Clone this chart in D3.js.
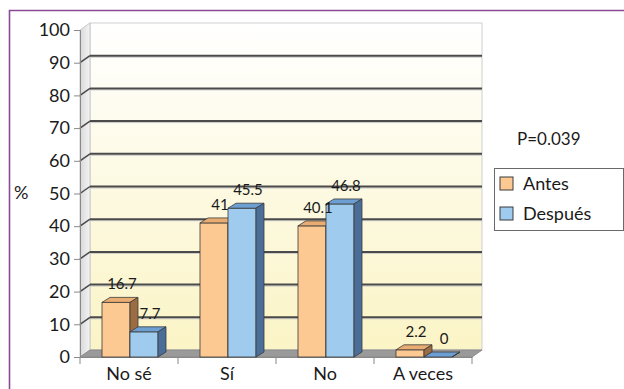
<!DOCTYPE html>
<html lang="es">
<head>
<meta charset="utf-8">
<title>Antes / Después</title>
<script src="https://d3js.org/d3.v7.min.js"></script>
<style>
  body { margin: 0; background: #fff; }
  svg text { font-family: Lato, "Open Sans", sans-serif; fill: #1a1a1a; }
</style>
</head>
<body>
<div id="chart"></div>
<script>
var categories = ["No sé", "Sí", "No", "A veces"];
var series = ["Antes", "Después"];
var antes = [16.7, 41, 40.1, 2.2];
var despues = [7.7, 45.5, 46.8, 0];
var yTicks = [0, 10, 20, 30, 40, 50, 60, 70, 80, 90, 100];

var width = 624, height = 389;
var svg = d3.select("#chart").append("svg")
    .attr("width", width)
    .attr("height", height);

// wall depth / bar depth (3D look)
var wdx = 10, wdy = -7, bdx = 8, bdy = -5;

var y = d3.scaleLinear().domain([0, 100]).range([357, 30]);
var x0 = d3.scaleBand().domain(categories).range([80, 472]);
var x1 = d3.scaleBand().domain(series).range([22, 78]);

var fronts = { "Antes": "#fdc992", "Después": "#9ecbee" },
    tops   = { "Antes": "#e9ac72", "Después": "#6e9fd2" },
    sides  = { "Antes": "#9c6c42", "Después": "#4a6e98" };

var defs = svg.append("defs");
var grad = defs.append("linearGradient").attr("id", "wall")
    .attr("x1", 0).attr("y1", 0).attr("x2", 0).attr("y2", 1);
grad.append("stop").attr("offset", "0%").attr("stop-color", "#ffffff");
grad.append("stop").attr("offset", "100%").attr("stop-color", "#fbf4c6");
var sgrad = defs.append("linearGradient").attr("id", "side")
    .attr("x1", 0).attr("y1", 0).attr("x2", 1).attr("y2", 0);
sgrad.append("stop").attr("offset", "0%").attr("stop-color", "#d8d8d8");
sgrad.append("stop").attr("offset", "100%").attr("stop-color", "#f4f4f4");

// frame
svg.append("path")
    .attr("d", "M9.5,389 V10.5 H624")
    .attr("fill", "none")
    .attr("stroke", "#8a4a98")
    .attr("stroke-width", 1.6);

var xl = x0.range()[0], xr = x0.range()[1];
var y0 = y(0), yTop = y(100);

// back wall
svg.append("rect")
    .attr("x", xl + wdx).attr("y", yTop + wdy)
    .attr("width", xr - xl).attr("height", y0 - yTop)
    .attr("fill", "url(#wall)")
    .attr("stroke", "#cfcfcf");

// side wall
svg.append("path")
    .attr("d", "M" + xl + "," + y0 + " L" + xl + "," + yTop +
               " L" + (xl + wdx) + "," + (yTop + wdy) +
               " L" + (xl + wdx) + "," + (y0 + wdy) + "Z")
    .attr("fill", "url(#side)")
    .attr("stroke", "#c8c8c8");

// gridlines on the back wall and side wall
var grid = svg.append("g");
yTicks.filter(function(d) { return d > 0 && d < 100; }).forEach(function(d) {
  grid.append("line")
      .attr("x1", xl + wdx).attr("x2", xr + wdx)
      .attr("y1", y(d) + wdy + 1.5).attr("y2", y(d) + wdy + 1.5)
      .attr("stroke", "#c9c9c9").attr("stroke-width", 1);
  grid.append("line")
      .attr("x1", xl + wdx).attr("x2", xr + wdx)
      .attr("y1", y(d) + wdy).attr("y2", y(d) + wdy)
      .attr("stroke", "#4a4a4a").attr("stroke-width", 2);
  grid.append("line")
      .attr("x1", xl).attr("x2", xl + wdx)
      .attr("y1", y(d)).attr("y2", y(d) + wdy)
      .attr("stroke", "#4a4a4a").attr("stroke-width", 1.5);
});

// floor
svg.append("path")
    .attr("d", "M" + xl + "," + y0 + " L" + xr + "," + y0 +
               " L" + (xr + wdx) + "," + (y0 + wdy) +
               " L" + (xl + wdx) + "," + (y0 + wdy) + "Z")
    .attr("fill", "#9a9a9a")
    .attr("stroke", "#8a8a8a");

// y axis
var yAxis = svg.append("g")
    .attr("transform", "translate(" + xl + ",0)")
    .call(d3.axisLeft(y).tickValues(yTicks).tickSize(6).tickPadding(4));
yAxis.select(".domain").attr("stroke", "#888");
yAxis.selectAll(".tick line").attr("stroke", "#888");
yAxis.selectAll("text").attr("font-size", 18).style("font-family", "Lato, sans-serif").attr("fill", "#1a1a1a");

// x axis
var xAxis = svg.append("g")
    .attr("transform", "translate(0," + y0 + ")")
    .call(d3.axisBottom(x0).tickSize(0).tickPadding(10));
xAxis.select(".domain").attr("stroke", "#888");
xAxis.selectAll("text").attr("font-size", 18).style("font-family", "Lato, sans-serif").attr("fill", "#1a1a1a");
svg.append("g").selectAll("line")
    .data(categories.concat([null]))
    .enter().append("line")
    .attr("x1", function(d) { return d === null ? xr : x0(d); })
    .attr("x2", function(d) { return d === null ? xr : x0(d); })
    .attr("y1", y0).attr("y2", y0 + 7)
    .attr("stroke", "#888");

// bars
var rows = [];
categories.forEach(function(c, i) {
  rows.push({ cat: c, key: "Antes", value: antes[i] });
  rows.push({ cat: c, key: "Después", value: despues[i] });
});

var bw = x1.bandwidth();
var bars = svg.append("g").selectAll("g")
    .data(rows)
    .enter().append("g");

bars.append("rect")
    .attr("x", function(d) { return x0(d.cat) + x1(d.key); })
    .attr("y", function(d) { return y(d.value); })
    .attr("width", bw)
    .attr("height", function(d) { return y0 - y(d.value); })
    .attr("fill", function(d) { return fronts[d.key]; })
    .attr("stroke", "#3a3a3a").attr("stroke-width", 0.8);

bars.append("path")
    .attr("d", function(d) {
      var bx = x0(d.cat) + x1(d.key), by = y(d.value);
      return "M" + bx + "," + by + " L" + (bx + bdx) + "," + (by + bdy) +
             " L" + (bx + bw + bdx) + "," + (by + bdy) + " L" + (bx + bw) + "," + by + "Z";
    })
    .attr("fill", function(d) { return tops[d.key]; })
    .attr("stroke", "#3a3a3a").attr("stroke-width", 0.8);

bars.append("path")
    .attr("d", function(d) {
      var bx = x0(d.cat) + x1(d.key) + bw, by = y(d.value);
      return "M" + bx + "," + by + " L" + (bx + bdx) + "," + (by + bdy) +
             " L" + (bx + bdx) + "," + (y0 + bdy) + " L" + bx + "," + y0 + "Z";
    })
    .attr("fill", function(d) { return sides[d.key]; })
    .attr("stroke", "#3a3a3a").attr("stroke-width", 0.8);

// data labels, drawn over all bars
svg.append("g").selectAll("text")
    .data(rows)
    .enter().append("text")
    .attr("x", function(d) { return x0(d.cat) + x1(d.key) + bw / 2 + bdx / 2 + 2; })
    .attr("y", function(d) { return y(d.value) - 13; })
    .attr("text-anchor", "middle")
    .attr("font-size", 15)
    .text(function(d) { return d.value; });

// y label
svg.append("text")
    .attr("x", 14).attr("y", 199)
    .attr("font-size", 18)
    .text("%");

// p value
svg.append("text")
    .attr("x", 517).attr("y", 145)
    .attr("font-size", 17)
    .text("P=0.039");

// legend
var legend = svg.append("g");
legend.append("rect")
    .attr("x", 494.5).attr("y", 168.5)
    .attr("width", 129).attr("height", 62)
    .attr("fill", "#fff")
    .attr("stroke", "#6a6a6a");
var li = legend.selectAll("g")
    .data(series)
    .enter().append("g")
    .attr("transform", function(d, i) { return "translate(500," + (177 + i * 30) + ")"; });
li.append("rect")
    .attr("width", 13).attr("height", 13)
    .attr("fill", function(d) { return fronts[d]; })
    .attr("stroke", "#3a3a3a");
li.append("text")
    .attr("x", 23).attr("y", 12.5)
    .attr("font-size", 18)
    .text(function(d) { return d; });
</script>
</body>
</html>
